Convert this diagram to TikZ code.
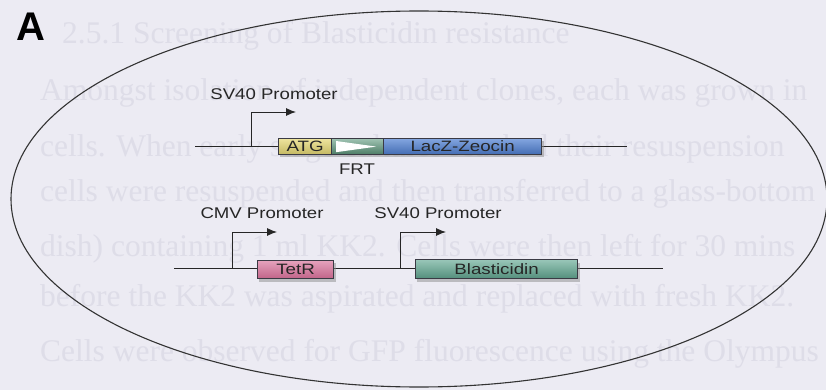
\documentclass[tikz,border=0pt]{standalone}
\usepackage{fontspec}
\setmainfont{Liberation Sans}
\newfontfamily\bgserif{Liberation Serif}
\newfontfamily\lblfont[FakeStretch=1.2]{Liberation Sans}
\newfontfamily\genefont[FakeStretch=1.25]{Liberation Sans}
\usetikzlibrary{arrows.meta}
\definecolor{bgc}{HTML}{ECEBF3}
\definecolor{fadetext}{HTML}{DEDDE8}
\definecolor{atgc}{HTML}{E6D873}
\definecolor{lacc}{HTML}{4E7FD2}
\definecolor{frtc}{HTML}{5E9A7E}
\definecolor{tetc}{HTML}{D66F98}
\definecolor{blac}{HTML}{62A892}
\definecolor{edgec}{HTML}{3A3A44}
\tikzset{
  x=1pt, y=-1pt,
  fadeline/.style={anchor=base west, inner sep=0pt, text=fadetext,
    font=\bgserif\fontsize{31.5}{32}\selectfont},
  label/.style={inner sep=0pt, font=\lblfont\fontsize{15.5}{17}\selectfont, text=black!85},
  gene/.style={draw=edgec, line width=1.2pt, inner sep=0pt, anchor=north west,
    font=\genefont\fontsize{15}{16}\selectfont, text=black!85},
  dna/.style={line width=0.9pt, draw=black!85},
  prom/.style={line width=0.9pt, draw=black!85, -{Latex[length=10pt,width=8pt]}},
  shadowbox/.style={fill=black!45, draw=none, opacity=0.5}
}
\begin{document}
\begin{tikzpicture}
\useasboundingbox (0,0) rectangle (826,390);
\fill[bgc] (0,0) rectangle (826,390);
\begin{scope}
\clip (0,0) rectangle (826,390);
% faded bleed-through text of the page
\node[fadeline] (t1) at (62,44) {2.5.1 Screening of Blasticidin resistance};
\node[fadeline] (t2) at (40,101) {Amongst isolation of independent clones, each was grown in};
\node[fadeline] (t3) at (40,157) {cells. When early stage cultures reached their resuspension};
\node[fadeline] (t4) at (40,201) {cells were resuspended and then transferred to a glass-bottom};
\node[fadeline] (t5) at (40,256) {dish) containing 1 ml KK2. Cells were then left for 30 mins};
\node[fadeline] (t6) at (40,306) {before the KK2 was aspirated and replaced with fresh KK2.};
\node[fadeline] (t7) at (40,361) {Cells were observed for GFP fluorescence using the Olympus};

% ellipse
\draw[line width=1.1pt, draw=black!80] (419,199) ellipse [x radius=408, y radius=188];
\end{scope}

% label A
\node[inner sep=0pt, anchor=north west, font=\bfseries\fontsize{40}{44}\selectfont] (lblA) at (16,13) {A};

% ---------- upper construct ----------
\coordinate (u0) at (195,146);
\coordinate (u1) at (627,146);
\draw[dna] (u0) -- (u1);

\fill[shadowbox] (280,141) rectangle (544,157);
\node[gene, minimum width=53pt, minimum height=16pt, top color=atgc!70!white, bottom color=atgc!85!black] (atg) at (278,138) {ATG};
\node[gene, minimum width=52pt, minimum height=16pt, top color=frtc!60!white, bottom color=frtc!80!black] (frt) at (331,138) {};
\fill[white] ([xshift=5pt,yshift=-3pt]frt.north west) -- ([xshift=-8pt]frt.east) -- ([xshift=5pt,yshift=3pt]frt.south west) -- ([xshift=5pt,yshift=1pt]frt.west) -- ([xshift=-16pt]frt.east) -- ([xshift=5pt,yshift=-1pt]frt.west) -- cycle;
\node[gene, minimum width=158pt, minimum height=16pt, top color=lacc!70!white, bottom color=lacc!85!black] (lacz) at (383,138) {LacZ-Zeocin};
\node[label] (frtl) at (357,169) {FRT};

\coordinate (p1a) at (251,146);
\coordinate (p1b) at (251,112);
\coordinate (p1c) at (296,112);
\draw[prom] (p1a) -- (p1b) -- (p1c);
\node[label] (p1l) at (274,94) {SV40 Promoter};

% ---------- lower construct ----------
\coordinate (l0) at (174,268);
\coordinate (l1) at (663,268);
\draw[dna] (l0) -- (l1);

\fill[shadowbox] (259,263) rectangle (336,282);
\node[gene, minimum width=76pt, minimum height=18pt, top color=tetc!65!white, bottom color=tetc!90!black] (tetr) at (257,260) {TetR};

\fill[shadowbox] (417,263) rectangle (580,282);
\node[gene, minimum width=162pt, minimum height=19pt, top color=blac!65!white, bottom color=blac!85!black] (blas) at (415,259) {Blasticidin};

\coordinate (p2a) at (232,268);
\coordinate (p2b) at (232,232);
\coordinate (p2c) at (277,232);
\draw[prom] (p2a) -- (p2b) -- (p2c);
\node[label] (p2l) at (262,213) {CMV Promoter};

\coordinate (p3a) at (400,268);
\coordinate (p3b) at (400,232);
\coordinate (p3c) at (446,232);
\draw[prom] (p3a) -- (p3b) -- (p3c);
\node[label] (p3l) at (438,213) {SV40 Promoter};
\end{tikzpicture}
\end{document}
